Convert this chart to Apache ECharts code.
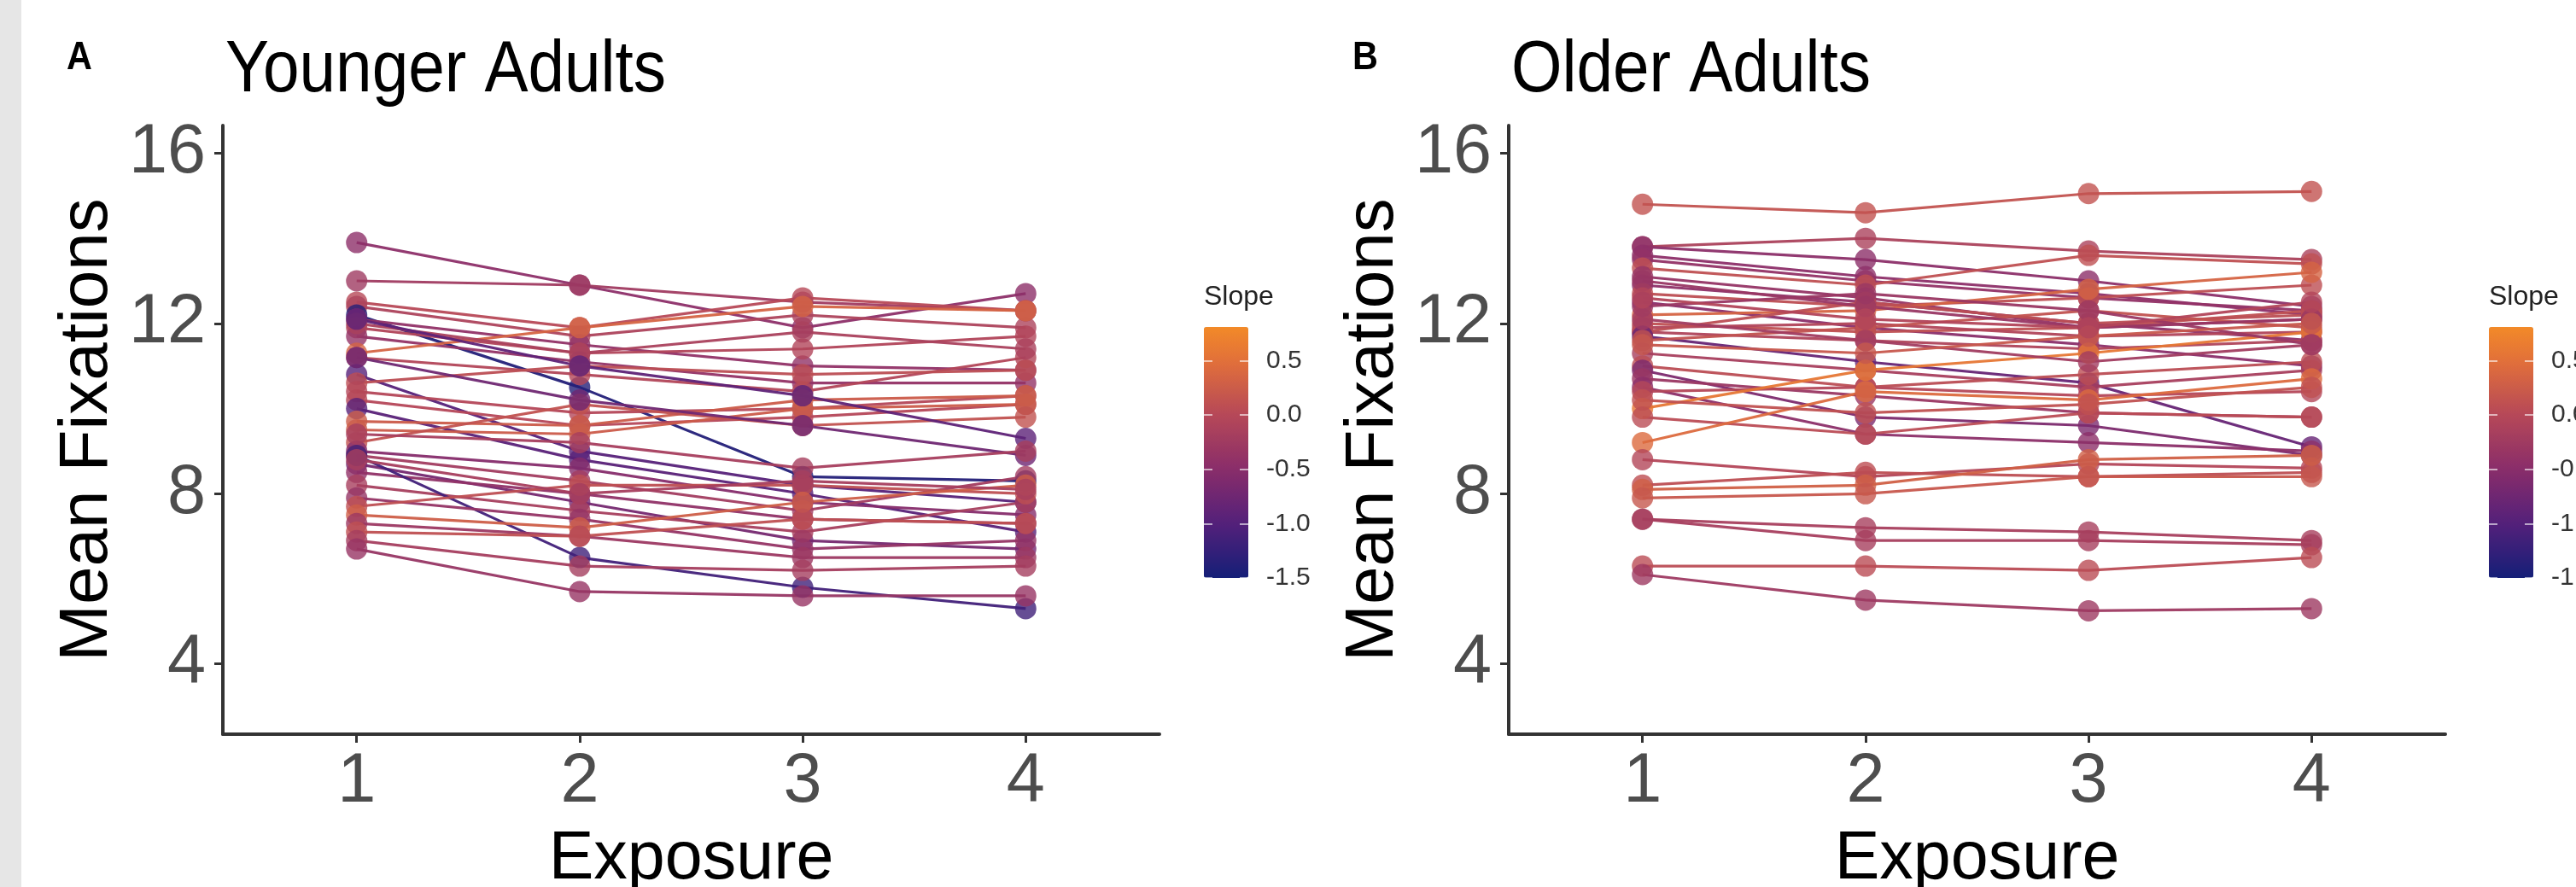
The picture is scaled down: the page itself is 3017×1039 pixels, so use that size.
<!DOCTYPE html>
<html>
<head>
<meta charset="utf-8">
<title>Mean Fixations by Exposure</title>
<script src="https://cdn.jsdelivr.net/npm/echarts@6.0.0/dist/echarts.min.js"></script>
<style>
html, body { margin: 0; padding: 0; background: #fff; }
#chart { width: 3017px; height: 1039px; }
</style>
</head>
<body>
<div id="chart"></div>
<script>
var exposure = [1, 2, 3, 4];
var yTicks = [4, 8, 12, 16];
var slopeTicks = [-1.5, -1.0, -0.5, 0.0, 0.5];

// mean fixations per participant at exposures 1-4
var younger = [
  [13.9, 12.9, 11.9, 12.7],
  [13.0, 12.9, 12.5, 12.3],
  [12.5, 11.9, 12.6, 12.3],
  [12.4, 11.7, 12.2, 11.9],
  [12.2, 10.5, 8.4, 8.3],
  [12.1, 11.5, 11.0, 10.9],
  [11.9, 11.3, 11.4, 11.7],
  [11.7, 11.1, 10.6, 10.6],
  [11.3, 11.9, 12.4, 12.3],
  [11.2, 10.8, 10.4, 11.2],
  [10.8, 9.0, 8.2, 7.8],
  [10.6, 11.0, 10.8, 10.9],
  [10.4, 9.9, 10.0, 10.3],
  [10.2, 9.6, 9.8, 10.1],
  [10.0, 8.8, 8.0, 7.1],
  [9.7, 9.6, 10.2, 10.3],
  [9.5, 9.4, 10.0, 10.1],
  [9.2, 10.1, 9.6, 9.8],
  [9.0, 8.6, 7.8, 7.5],
  [8.9, 8.3, 7.6, 8.4],
  [8.7, 7.8, 6.9, 6.7],
  [8.5, 8.0, 7.4, 7.3],
  [8.2, 7.6, 7.1, 7.8],
  [8.9, 6.5, 5.8, 5.3],
  [7.9, 7.4, 6.7, 6.9],
  [7.7, 8.2, 8.2, 8.0],
  [7.5, 7.2, 7.8, 8.2],
  [7.3, 7.0, 6.5, 6.5],
  [7.1, 7.0, 7.4, 7.3],
  [6.9, 6.3, 6.2, 6.3],
  [6.7, 5.7, 5.6, 5.6],
  [12.0, 11.3, 11.8, 11.4],
  [12.1, 11.0, 10.3, 9.3],
  [11.2, 10.2, 9.6, 8.9],
  [8.8, 8.0, 8.3, 8.1],
  [9.4, 9.2, 8.6, 9.0]
];

var older = [
  [14.8, 14.6, 15.05, 15.1],
  [13.8, 14.0, 13.7, 13.5],
  [13.8, 13.5, 13.0, 12.4],
  [13.6, 13.1, 12.7, 12.2],
  [13.5, 13.0, 12.6, 12.3],
  [13.3, 12.9, 13.6, 13.4],
  [13.1, 12.6, 11.9, 12.1],
  [12.9, 12.5, 12.0, 11.6],
  [12.7, 12.4, 12.6, 12.9],
  [12.5, 11.9, 11.5, 11.0],
  [12.2, 12.3, 12.8, 13.2],
  [12.0, 11.8, 11.9, 12.3],
  [11.9, 12.0, 11.7, 11.8],
  [11.8, 11.6, 11.4, 11.6],
  [11.8, 12.5, 12.0, 12.2],
  [11.7, 11.1, 10.6, 9.1],
  [11.6, 11.9, 12.3, 11.9],
  [11.3, 10.9, 10.5, 10.9],
  [11.0, 10.5, 10.8, 11.1],
  [10.9, 9.8, 9.6, 8.9],
  [10.7, 10.3, 9.9, 9.8],
  [10.5, 9.4, 9.2, 9.0],
  [10.4, 10.5, 10.3, 10.4],
  [10.0, 10.9, 11.3, 11.8],
  [9.8, 9.4, 9.9, 9.8],
  [9.2, 10.4, 10.2, 10.7],
  [8.8, 8.4, 8.7, 8.6],
  [8.2, 8.5, 8.4, 8.5],
  [8.1, 8.2, 8.8, 8.9],
  [7.9, 8.0, 8.4, 8.4],
  [7.4, 7.2, 7.1, 6.9],
  [7.4, 6.9, 6.9, 6.8],
  [6.3, 6.3, 6.2, 6.5],
  [6.1, 5.5, 5.25, 5.3],
  [12.4, 12.7, 12.3, 11.5],
  [12.1, 11.6, 11.1, 11.5],
  [13.0, 12.4, 11.9, 12.1],
  [11.5, 11.3, 11.7, 12.0],
  [12.6, 12.1, 11.9, 12.5],
  [10.2, 9.9, 10.1, 10.5]
];

var SLOPE_MIN = -1.5, SLOPE_MAX = 0.81;
var slopeStops = [
  [-1.5, [20, 31, 120]],
  [-1.0, [84, 32, 122]],
  [-0.5, [137, 45, 106]],
  [0.0, [182, 72, 88]],
  [0.5, [226, 112, 58]],
  [0.81, [242, 138, 40]]
];

function slopeColor(s) {
  if (s <= slopeStops[0][0]) s = slopeStops[0][0];
  if (s >= slopeStops[slopeStops.length - 1][0]) s = slopeStops[slopeStops.length - 1][0];
  for (var i = 0; i < slopeStops.length - 1; i++) {
    var a = slopeStops[i], b = slopeStops[i + 1];
    if (s >= a[0] && s <= b[0]) {
      var t = (s - a[0]) / (b[0] - a[0]);
      var c = [0, 1, 2].map(function (k) { return Math.round(a[1][k] + t * (b[1][k] - a[1][k])); });
      return 'rgb(' + c.join(',') + ')';
    }
  }
  return '#b5475a';
}

// least squares slope of fixations on exposure, like the figure's colour
function slopeOf(vals) {
  var mx = 2.5, my = 0, num = 0, den = 0;
  vals.forEach(function (v) { my += v / vals.length; });
  vals.forEach(function (v, i) {
    num += (exposure[i] - mx) * (v - my);
    den += (exposure[i] - mx) * (exposure[i] - mx);
  });
  return num / den;
}

var palette = [];
for (var p = 0; p <= 20; p++) {
  palette.push(slopeColor(SLOPE_MIN + (SLOPE_MAX - SLOPE_MIN) * p / 20));
}

var sans = "'Liberation Sans', Arial, Helvetica, sans-serif";

var grids = [], xAxes = [], yAxes = [], series = [], visualMaps = [], graphics = [];

graphics.push({ type: 'rect', shape: { x: 0, y: 0, width: 25, height: 1039 }, style: { fill: '#e6e6e6' }, silent: true });

function makePanel(rows, left, letter, letterX, title, legendLeft) {
  var g = grids.length;
  grids.push({ left: left, top: 147, width: 1097, height: 713, outerBoundsMode: 'none', containLabel: false });
  xAxes.push({
    gridIndex: g, type: 'value', min: 0.4, max: 4.6,
    axisLine: { show: true, onZero: false, lineStyle: { color: '#333', width: 4 } },
    axisTick: { show: true, customValues: exposure, length: 10, lineStyle: { color: '#333', width: 3 } },
    axisLabel: { customValues: exposure, fontSize: 81, color: '#4d4d4d', margin: 16, fontFamily: sans },
    splitLine: { show: false },
    name: 'Exposure', nameLocation: 'middle', nameGap: 108,
    nameTextStyle: { fontSize: 79, color: '#000', fontFamily: sans }
  });
  var ya = yAxes.length;
  yAxes.push({
    gridIndex: g, type: 'value', min: 2.35, max: 16.65,
    axisLine: { show: true, lineStyle: { color: '#333', width: 4 } },
    axisTick: { show: true, customValues: yTicks, length: 10, lineStyle: { color: '#333', width: 3 } },
    axisLabel: { customValues: yTicks, fontSize: 81, color: '#4d4d4d', margin: 20, fontFamily: sans },
    splitLine: { show: false },
    name: 'Mean Fixations', nameLocation: 'middle', nameGap: 118, nameRotate: 90,
    nameTextStyle: { fontSize: 80, color: '#000', fontFamily: sans }
  });

  var pts = [];
  rows.forEach(function (vals) {
    var s = slopeOf(vals);
    series.push({
      type: 'line', xAxisIndex: g, yAxisIndex: ya, silent: true, z: 2,
      showSymbol: false, animation: false,
      lineStyle: { color: slopeColor(s), width: 3.2, opacity: 0.95 },
      data: vals.map(function (v, i) { return [exposure[i], v]; })
    });
    vals.forEach(function (v, i) { pts.push([exposure[i], v, s]); });
  });
  var sIdx = series.length;
  series.push({
    type: 'scatter', xAxisIndex: g, yAxisIndex: ya, silent: true, z: 3,
    symbolSize: 25, animation: false, data: pts
  });

  // colour bar
  var cg = grids.length;
  grids.push({ left: legendLeft, top: 383, width: 52, height: 294, outerBoundsMode: 'none', containLabel: false });
  xAxes.push({ gridIndex: cg, type: 'value', show: false });
  var barTick = { show: true, inside: true, length: 10, customValues: slopeTicks, lineStyle: { color: 'rgba(255,255,255,0.6)', width: 2 } };
  yAxes.push({
    gridIndex: cg, type: 'value', position: 'left', min: SLOPE_MIN, max: SLOPE_MAX, z: 10,
    axisLine: { show: false }, axisTick: barTick, axisLabel: { show: false }, splitLine: { show: false }
  });
  yAxes.push({
    gridIndex: cg, type: 'value', position: 'right', min: SLOPE_MIN, max: SLOPE_MAX, z: 10,
    axisLine: { show: false }, axisTick: barTick, splitLine: { show: false },
    axisLabel: {
      customValues: slopeTicks, margin: 21, fontSize: 30, color: '#333', fontFamily: sans,
      formatter: function (v) { return v.toFixed(1); }
    }
  });
  visualMaps.push({
    type: 'continuous', seriesIndex: sIdx, dimension: 2,
    min: SLOPE_MIN, max: SLOPE_MAX, calculable: false, hoverLink: false,
    left: legendLeft, top: 383, itemWidth: 52, itemHeight: 294, padding: 0,
    inRange: { color: palette }
  });

  graphics.push({ type: 'text', x: letterX, y: 68, scaleX: 0.9, silent: true,
    style: { text: letter, fontSize: 46, fontWeight: 'bold', fontFamily: sans, fill: '#000', verticalAlign: 'middle' } });
  graphics.push({ type: 'text', x: left + 3, y: 84, scaleX: 0.9, silent: true,
    style: { text: title, fontSize: 85, fontFamily: sans, fill: '#000', verticalAlign: 'middle' } });
  graphics.push({ type: 'text', x: legendLeft, y: 348, silent: true,
    style: { text: 'Slope', fontSize: 32, fontFamily: sans, fill: '#222', verticalAlign: 'middle' } });
}

makePanel(younger, 261, 'A', 78, 'Younger Adults', 1410);
makePanel(older, 1767, 'B', 1584, 'Older Adults', 2915);

var chart = echarts.init(document.getElementById('chart'));
chart.setOption({
  backgroundColor: '#fff',
  animation: false,
  grid: grids,
  xAxis: xAxes,
  yAxis: yAxes,
  visualMap: visualMaps,
  series: series,
  graphic: graphics
});
</script>
</body>
</html>
